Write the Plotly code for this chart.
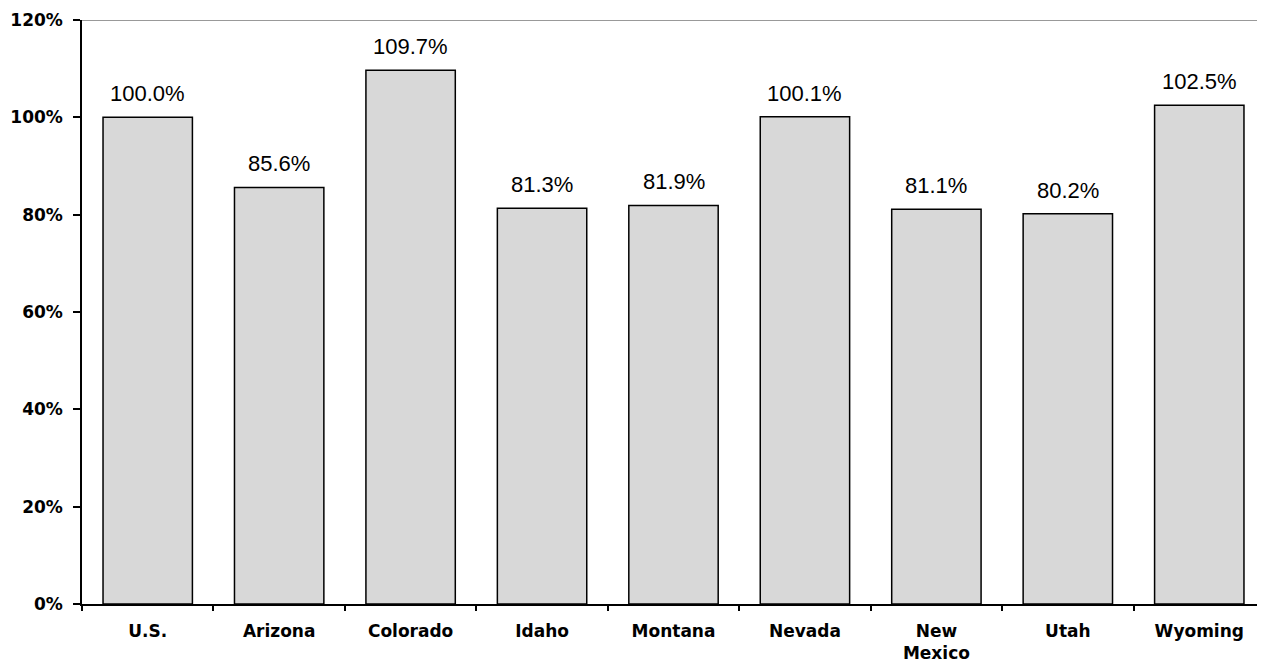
import plotly.graph_objects as go

categories = ["U.S.", "Arizona", "Colorado", "Idaho", "Montana", "Nevada", "New<br>Mexico", "Utah", "Wyoming"]
values = [100.0, 85.6, 109.7, 81.3, 81.9, 100.1, 81.1, 80.2, 102.5]
y_ticks = [0, 20, 40, 60, 80, 100, 120]
y_tick_labels = [f"{v}%" for v in y_ticks]

fig = go.Figure()
fig.add_trace(go.Bar(
    x=categories, y=values,
    marker=dict(color="#d8d8d8", line=dict(color="black", width=1.5)),
    hoverinfo="skip",
))

for c, v in zip(categories, values):
    fig.add_annotation(x=c, y=v, text=f"{v:.1f}%", showarrow=False,
                       yanchor="bottom", yshift=9,
                       font=dict(family="Arial, Liberation Sans", size=22, color="black"))

fig.add_shape(type="line", xref="paper", yref="y", x0=0, x1=1, y0=120, y1=120,
              line=dict(color="#999999", width=2))

fig.update_layout(
    width=1257, height=659,
    margin=dict(l=74, r=0, t=12, b=63),
    plot_bgcolor="white", paper_bgcolor="white",
    bargap=0.32,
    showlegend=False,
    xaxis=dict(
        type="category", tickson="boundaries", ticks="outside", ticklen=5,
        tickcolor="black", tickwidth=1.5,
        showline=True, linecolor="black", linewidth=1.5,
        showgrid=False, ticklabelstandoff=11,
        tickvals=categories, ticktext=[f"<b>{c}</b>" for c in categories],
        tickfont=dict(family="DejaVu Sans", size=17, color="black"),
    ),
    yaxis=dict(
        range=[0, 120], tickvals=y_ticks, ticktext=[f"<b>{t}</b>" for t in y_tick_labels],
        ticks="outside", ticklen=7, tickcolor="black", tickwidth=1.5,
        showline=True, linecolor="black", linewidth=1.5,
        showgrid=False, zeroline=False, ticklabelstandoff=7,
        tickfont=dict(family="DejaVu Sans", size=17, color="black"),
    ),
)
fig.write_html("out.html")
